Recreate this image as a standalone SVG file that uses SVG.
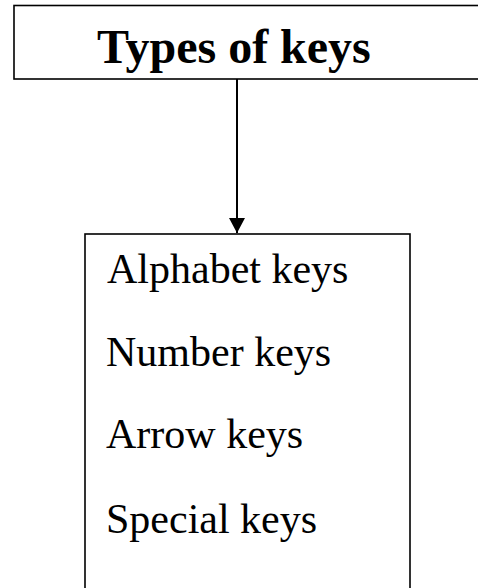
<svg xmlns="http://www.w3.org/2000/svg" width="478" height="588" viewBox="0 0 478 588">
<style>
.box{fill:#fff;stroke:#000;stroke-width:1.6}
.t{font-family:"Liberation Serif","Times New Roman",serif;fill:#000}
.title{font-size:48px;font-weight:bold}
.item{font-size:42px}
.conn{stroke:#000;stroke-width:2;fill:none}
</style>
<defs>
<marker id="ah" markerWidth="16" markerHeight="16" refX="15" refY="8" orient="auto" markerUnits="userSpaceOnUse">
<path d="M0,0 L15,8 L0,16 Z" fill="#000"/>
</marker>
</defs>
<g id="node-types">
<rect class="box" x="14" y="5.5" width="480" height="73.5"/>
<text class="t title" x="97" y="63">Types of keys</text>
</g>
<g id="node-list">
<rect class="box" x="85" y="234" width="325" height="380"/>
<text class="t item" x="107" y="283">Alphabet keys</text>
<text class="t item" x="106" y="366">Number keys</text>
<text class="t item" x="106" y="448">Arrow keys</text>
<text class="t item" x="106" y="533">Special keys</text>
</g>
<g id="connectors">
<line class="conn" x1="237" y1="79" x2="237" y2="233" marker-end="url(#ah)"/>
</g>
</svg>
